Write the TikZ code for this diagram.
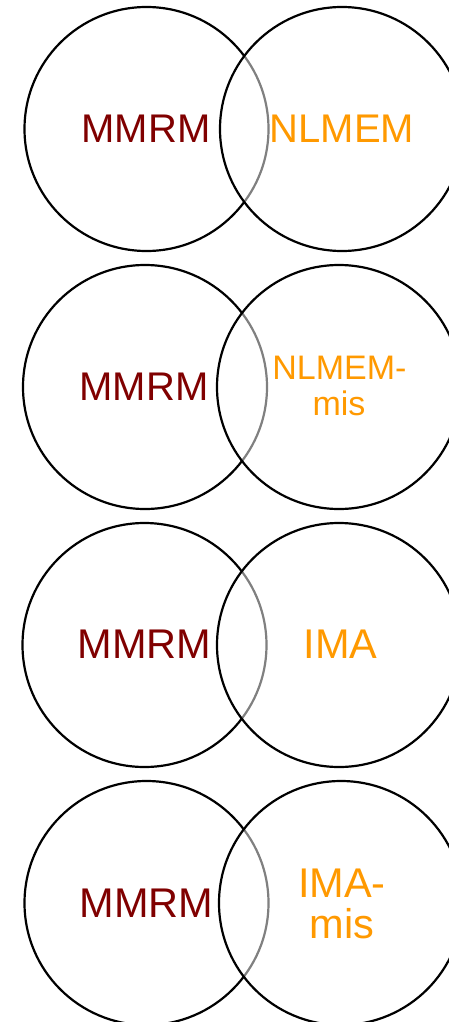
\documentclass[tikz,border=0pt]{standalone}
\usepackage{fontspec}
\setmainfont{Liberation Sans}
\definecolor{mred}{HTML}{800000}
\definecolor{morange}{HTML}{FF9900}
\begin{document}
\begin{tikzpicture}[x=1pt,y=-1pt,
  ring/.style={circle,draw=black,line width=2.2pt,minimum size=244pt,inner sep=0pt},
  ringtop/.style={ring,fill=white,fill opacity=0.5},
  lbl/.style={anchor=base,inner sep=0pt,font=\fontsize{#1}{#1}\selectfont},
  leftlbl/.style={lbl=#1,text=mred},
  rightlbl/.style={lbl=#1,text=morange}]
\useasboundingbox (0,0) rectangle (449,1022);
% pair 1
\node[ring] (L1) at (146.5,129) {};
\node[ringtop] (R1) at (342,129) {};
\node[leftlbl=40] (t1a) at (146,142.7) {MMRM};
\node[rightlbl=40] (t1b) at (342,142.7) {NLMEM};
% pair 2
\node[ring] (L2) at (145,387) {};
\node[ringtop] (R2) at (339,387) {};
\node[leftlbl=40] (t2a) at (144,400) {MMRM};
\node[rightlbl=34] (t2b) at (339.5,379) {NLMEM-};
\node[rightlbl=34] (t2c) at (339,415) {mis};
% pair 3
\node[ring] (L3) at (144.5,645) {};
\node[ringtop] (R3) at (339,645) {};
\node[leftlbl=41.5] (t3a) at (144.5,658) {MMRM};
\node[rightlbl=41.5] (t3b) at (340.5,658) {IMA};
% pair 4
\node[ring] (L4) at (146.5,903) {};
\node[ringtop] (R4) at (341,903) {};
\node[leftlbl=41.5] (t4a) at (146.5,917) {MMRM};
\node[rightlbl=41.5] (t4b) at (342,897) {IMA-};
\node[rightlbl=41.5] (t4c) at (342,938) {mis};
\end{tikzpicture}
\end{document}
